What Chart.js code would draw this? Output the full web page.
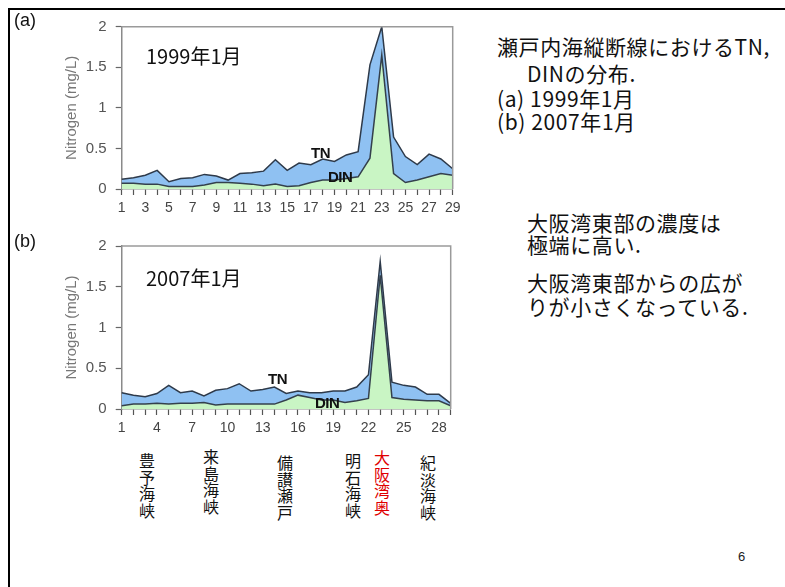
<!DOCTYPE html>
<html lang="ja">
<head>
<meta charset="utf-8">
<title>瀬戸内海縦断線におけるTN, DINの分布</title>
<script src="https://cdn.jsdelivr.net/npm/chart.js@4.4.0/dist/chart.umd.min.js"></script>
<style>
  html, body { margin: 0; padding: 0; background: #fff; }
  #page {
    position: relative; width: 785px; height: 587px; overflow: hidden;
    font-family: "Noto Sans CJK JP", sans-serif; color: #111;
  }
  .frame-left { position: absolute; left: 8px; top: 8px; width: 2px; height: 579px; background: #000; }
  .frame-top { position: absolute; left: 8px; top: 8px; width: 777px; height: 2px; background: #000; }
  .chart-box { position: absolute; left: 0; }
  .txt { position: absolute; white-space: pre; }
  .panel-tag { font-family: "Liberation Sans", Arial, sans-serif; font-size: 18px; line-height: 18px; }
  .year { font-size: 20px; line-height: 20px; }
  .series-tag { font-family: "Liberation Sans", Arial, sans-serif; font-weight: bold; font-size: 15px; line-height: 15px; letter-spacing: -0.5px; }
  .note { font-size: 21px; line-height: 21px; letter-spacing: 0.6px; }
  .place {
    writing-mode: vertical-rl; font-size: 16px; line-height: 16px; letter-spacing: 0.5px;
  }
  .page-no { font-family: "Liberation Sans", Arial, sans-serif; font-size: 13px; line-height: 13px; color: #222; }
</style>
</head>
<body>
<div id="page">
  <div class="frame-left"></div>
  <div class="frame-top"></div>

  <div class="chart-box" style="top:0px"><canvas id="chart1999" width="470" height="225"></canvas></div>
  <div class="chart-box" style="top:220px"><canvas id="chart2007" width="470" height="225"></canvas></div>

  <div class="txt panel-tag" style="left:14px; top:11px">(a)</div>
  <div class="txt panel-tag" style="left:14px; top:232px">(b)</div>

  <div class="txt year" style="left:146px; top:46px">1999年1月</div>
  <div class="txt year" style="left:146px; top:268px">2007年1月</div>

  <div class="txt series-tag" style="left:311px; top:145px">TN</div>
  <div class="txt series-tag" style="left:328px; top:169px">DIN</div>
  <div class="txt series-tag" style="left:268px; top:371px">TN</div>
  <div class="txt series-tag" style="left:315px; top:395px">DIN</div>

  <div class="txt place" style="left:139px; top:453px">豊予海峡</div>
  <div class="txt place" style="left:203px; top:449px">来島海峡</div>
  <div class="txt place" style="left:277px; top:455px">備讃瀬戸</div>
  <div class="txt place" style="left:345px; top:453px">明石海峡</div>
  <div class="txt place" style="left:374px; top:450px; color:#e00000">大阪湾奥</div>
  <div class="txt place" style="left:420px; top:455px">紀淡海峡</div>

  <div class="txt note" style="left:497px; top:36px">瀬戸内海縦断線におけるTN,</div>
  <div class="txt note" style="left:527px; top:63px">DINの分布.</div>
  <div class="txt note" style="left:497px; top:88px">(a) 1999年1月</div>
  <div class="txt note" style="left:497px; top:111px">(b) 2007年1月</div>
  <div class="txt note" style="left:527px; top:212px">大阪湾東部の濃度は</div>
  <div class="txt note" style="left:527px; top:234px">極端に高い.</div>
  <div class="txt note" style="left:527px; top:272px">大阪湾東部からの広が</div>
  <div class="txt note" style="left:527px; top:296px">りが小さくなっている.</div>

  <div class="txt page-no" style="left:738px; top:550px">6</div>
</div>

<script>
// Stations along the Seto Inland Sea transect
const stations = ['1','2','3','4','5','6','7','8','9','10','11','12','13','14','15',
                  '16','17','18','19','20','21','22','23','24','25','26','27','28','29'];

// Nitrogen (mg/L), January 1999
const tn1999 = [0.12, 0.14, 0.17, 0.23, 0.09, 0.13, 0.14, 0.18, 0.16, 0.11,
                0.19, 0.20, 0.22, 0.36, 0.23, 0.32, 0.30, 0.37, 0.34, 0.42,
                0.46, 1.53, 2.00, 0.64, 0.40, 0.30, 0.43, 0.37, 0.25];
const din1999 = [0.07, 0.07, 0.06, 0.06, 0.03, 0.03, 0.03, 0.05, 0.08, 0.08,
                 0.07, 0.06, 0.04, 0.06, 0.03, 0.04, 0.08, 0.11, 0.11, 0.13,
                 0.15, 0.38, 1.65, 0.19, 0.08, 0.11, 0.15, 0.19, 0.17];

// Nitrogen (mg/L), January 2007
const tn2007 = [0.20, 0.17, 0.15, 0.19, 0.29, 0.20, 0.22, 0.16, 0.23, 0.25,
                0.31, 0.22, 0.24, 0.27, 0.19, 0.22, 0.20, 0.20, 0.22, 0.22,
                0.27, 0.42, 1.81, 0.33, 0.29, 0.27, 0.18, 0.18, 0.07];
const din2007 = [0.04, 0.06, 0.06, 0.07, 0.06, 0.07, 0.07, 0.08, 0.05, 0.06,
                 0.06, 0.06, 0.06, 0.06, 0.11, 0.17, 0.14, 0.11, 0.11, 0.08,
                 0.10, 0.13, 1.64, 0.14, 0.12, 0.11, 0.10, 0.10, 0.04];

// Station numbers printed under each axis
const xLabels1999 = ['1','3','5','7','9','11','13','15','17','19','21','23','25','27','29'];
const xLabels2007 = ['1','4','7','10','13','16','19','22','25','28'];
const yTicks = [0, 0.5, 1, 1.5, 2];

// Gray box line along the top and right of the plot
const plotFrame = {
  id: 'plotFrame',
  afterDraw(chart) {
    const { ctx, chartArea: a } = chart;
    ctx.save();
    ctx.strokeStyle = '#9a9a9a';
    ctx.lineWidth = 1.5;
    ctx.beginPath();
    ctx.moveTo(a.left, a.top);
    ctx.lineTo(a.right, a.top);
    ctx.lineTo(a.right, a.bottom);
    ctx.stroke();
    ctx.restore();
  }
};

function makeChart(id, tn, din, shownLabels, pad) {
  const ctx = document.getElementById(id).getContext('2d');
  return new Chart(ctx, {
    type: 'line',
    data: {
      labels: stations,
      datasets: [
        {
          label: 'DIN',
          data: din,
          borderColor: '#34404c',
          borderWidth: 1.5,
          backgroundColor: '#c9f5c4',
          fill: 'origin',
          pointRadius: 0,
          tension: 0
        },
        {
          label: 'TN',
          data: tn,
          borderColor: '#2e3a4a',
          borderWidth: 1.5,
          backgroundColor: '#8fc1f2',
          fill: 'origin',
          pointRadius: 0,
          tension: 0
        }
      ]
    },
    options: {
      responsive: false,
      animation: false,
      layout: { padding: { left: 0, top: pad.top, right: pad.right, bottom: 0 } },
      plugins: {
        legend: { display: false },
        tooltip: { enabled: false }
      },
      scales: {
        x: {
          type: 'category',
          offset: false,
          border: { color: '#8a8a8a', width: 1.5 },
          grid: { drawOnChartArea: false, drawTicks: true, tickLength: 6, tickColor: '#555', tickWidth: 1.2 },
          ticks: {
            autoSkip: false,
            maxRotation: 0,
            padding: 5,
            color: '#444',
            font: { family: 'Liberation Sans', size: 14 },
            callback: function(value) {
              const l = this.getLabelForValue(value);
              return shownLabels.includes(l) ? l : '';
            }
          },
          afterFit: (s) => { s.height = 36; }
        },
        y: {
          min: yTicks[0],
          max: yTicks[yTicks.length - 1],
          border: { color: '#8a8a8a', width: 1.5 },
          grid: { drawOnChartArea: false, drawTicks: true, tickLength: 6, tickColor: '#666', tickWidth: 1.2 },
          afterBuildTicks: (s) => { s.ticks = yTicks.map(v => ({ value: v })); },
          ticks: {
            padding: 9,
            color: '#555',
            font: { family: 'Liberation Sans', size: 15 },
            callback: (v) => String(v)
          },
          title: {
            display: true,
            text: 'Nitrogen (mg/L)',
            color: '#777',
            font: { family: 'Liberation Sans', size: 15 },
            padding: { top: 63, bottom: 0 }
          },
          afterFit: (s) => { s.width = 121.7; }
        }
      }
    },
    plugins: [plotFrame]
  });
}

makeChart('chart1999', tn1999, din1999, xLabels1999, { top: 26.7, right: 17.3 });
makeChart('chart2007', tn2007, din2007, xLabels2007, { top: 26, right: 19.3 });
</script>
</body>
</html>
